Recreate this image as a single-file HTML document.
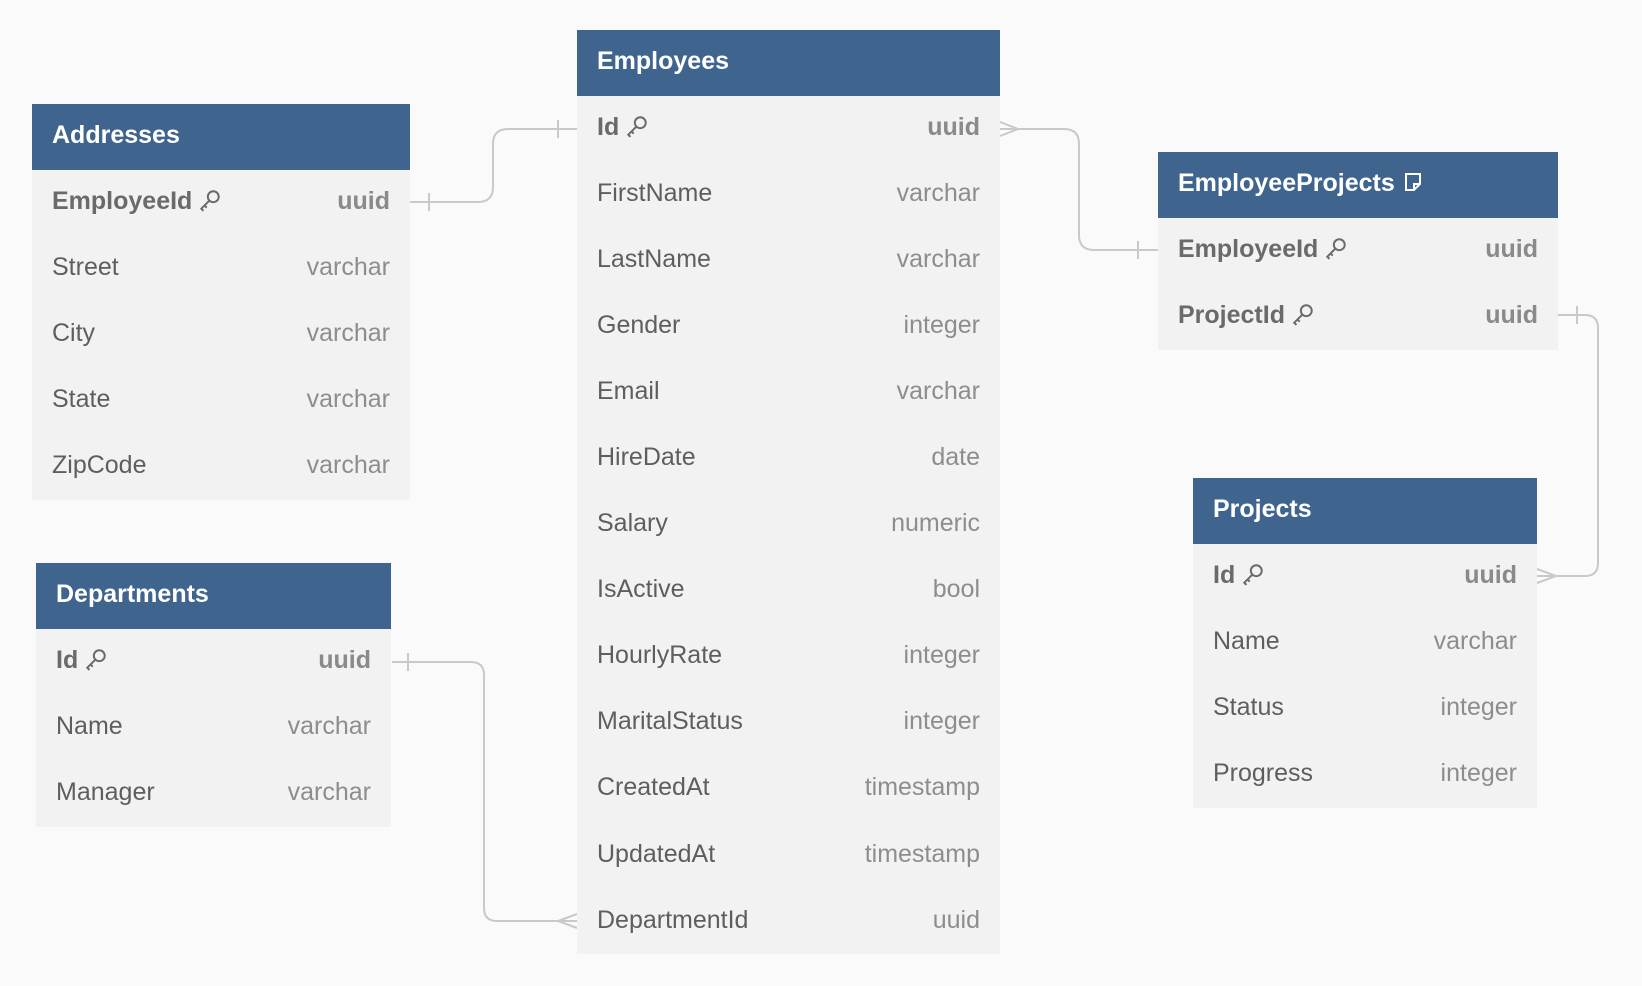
<!DOCTYPE html>
<html><head><meta charset="utf-8"><style>
html,body{margin:0;padding:0;background:#fafafa;width:1642px;height:986px;overflow:hidden;font-family:"Liberation Sans",sans-serif}
.t{position:absolute;background:#f2f2f2}
.h{background:#3f658f;color:#fff;font-weight:bold;font-size:25px;height:66px;line-height:62px;padding-left:20px;box-sizing:border-box}
.r{height:66.1px;display:flex;align-items:center;justify-content:space-between;padding:0 20px 4px;box-sizing:border-box;font-size:25px;color:#5e5e5e}
.r span:last-child{color:#8d8d8d}
.r.k{font-weight:bold;color:#6a6a6a}
.r.k span:last-child{color:#8a8a8a}
.key{display:inline-block;width:24px;height:24px;vertical-align:-3px;margin-left:6px}
svg.c{position:absolute;left:0;top:0}
</style></head><body>
<svg class="c" width="1642" height="986" fill="none" stroke="#c9c9c9" stroke-width="2">
<path d="M410 202 H478 Q493 202 493 187 V144 Q493 129 508 129 H577"/>
<path d="M429 193 V211 M558 120 V138"/>
<path d="M1000 129 H1064 Q1079 129 1079 144 V235 Q1079 250 1094 250 H1158"/>
<path d="M1000 122 L1018 129 L1000 136 M1138 241 V259"/>
<path d="M1558 315 H1585 Q1598 315 1598 328 V563 Q1598 576 1585 576 H1537"/>
<path d="M1577 306 V324 M1537 569 L1556 576 L1537 583"/>
<path d="M392 662 H471 Q484 662 484 675 V908 Q484 921 497 921 H577"/>
<path d="M408 653 V671 M577 914 L558 921 L577 928"/>
</svg>
<div class="t" style="left:577px;top:30px;width:423px;height:924px">
<div class="h">Employees</div>
<div class="r k"><span>Id<svg class="key" viewBox="0 0 22 22" fill="none" stroke="#6a6a6a" stroke-width="1.8"><circle cx="14" cy="8" r="5"/><path d="M10 12 L3 19 L5 21 M6 16 L8 18"/></svg></span><span>uuid</span></div>
<div class="r"><span>FirstName</span><span>varchar</span></div>
<div class="r"><span>LastName</span><span>varchar</span></div>
<div class="r"><span>Gender</span><span>integer</span></div>
<div class="r"><span>Email</span><span>varchar</span></div>
<div class="r"><span>HireDate</span><span>date</span></div>
<div class="r"><span>Salary</span><span>numeric</span></div>
<div class="r"><span>IsActive</span><span>bool</span></div>
<div class="r"><span>HourlyRate</span><span>integer</span></div>
<div class="r"><span>MaritalStatus</span><span>integer</span></div>
<div class="r"><span>CreatedAt</span><span>timestamp</span></div>
<div class="r"><span>UpdatedAt</span><span>timestamp</span></div>
<div class="r"><span>DepartmentId</span><span>uuid</span></div>
</div>
<div class="t" style="left:32px;top:104px;width:378px;height:396px">
<div class="h">Addresses</div>
<div class="r k"><span>EmployeeId<svg class="key" viewBox="0 0 22 22" fill="none" stroke="#6a6a6a" stroke-width="1.8"><circle cx="14" cy="8" r="5"/><path d="M10 12 L3 19 L5 21 M6 16 L8 18"/></svg></span><span>uuid</span></div>
<div class="r"><span>Street</span><span>varchar</span></div>
<div class="r"><span>City</span><span>varchar</span></div>
<div class="r"><span>State</span><span>varchar</span></div>
<div class="r"><span>ZipCode</span><span>varchar</span></div>
</div>
<div class="t" style="left:36px;top:563px;width:355px;height:264px">
<div class="h">Departments</div>
<div class="r k"><span>Id<svg class="key" viewBox="0 0 22 22" fill="none" stroke="#6a6a6a" stroke-width="1.8"><circle cx="14" cy="8" r="5"/><path d="M10 12 L3 19 L5 21 M6 16 L8 18"/></svg></span><span>uuid</span></div>
<div class="r"><span>Name</span><span>varchar</span></div>
<div class="r"><span>Manager</span><span>varchar</span></div>
</div>
<div class="t" style="left:1158px;top:152px;width:400px;height:198px">
<div class="h">EmployeeProjects<svg style="margin-left:8px;vertical-align:-2px" width="20" height="22" viewBox="0 0 20 22" fill="none" stroke="#fff" stroke-width="2"><path d="M3 3 H17 V13 L11 19 H3 Z M11 19 V13 H17"/></svg></div>
<div class="r k"><span>EmployeeId<svg class="key" viewBox="0 0 22 22" fill="none" stroke="#6a6a6a" stroke-width="1.8"><circle cx="14" cy="8" r="5"/><path d="M10 12 L3 19 L5 21 M6 16 L8 18"/></svg></span><span>uuid</span></div>
<div class="r k"><span>ProjectId<svg class="key" viewBox="0 0 22 22" fill="none" stroke="#6a6a6a" stroke-width="1.8"><circle cx="14" cy="8" r="5"/><path d="M10 12 L3 19 L5 21 M6 16 L8 18"/></svg></span><span>uuid</span></div>
</div>
<div class="t" style="left:1193px;top:478px;width:344px;height:330px">
<div class="h">Projects</div>
<div class="r k"><span>Id<svg class="key" viewBox="0 0 22 22" fill="none" stroke="#6a6a6a" stroke-width="1.8"><circle cx="14" cy="8" r="5"/><path d="M10 12 L3 19 L5 21 M6 16 L8 18"/></svg></span><span>uuid</span></div>
<div class="r"><span>Name</span><span>varchar</span></div>
<div class="r"><span>Status</span><span>integer</span></div>
<div class="r"><span>Progress</span><span>integer</span></div>
</div>
</body></html>
